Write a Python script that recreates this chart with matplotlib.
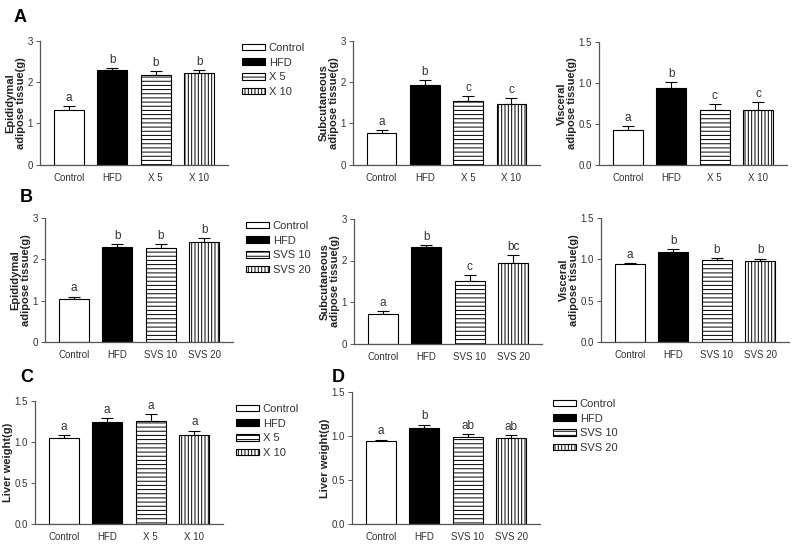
import matplotlib
matplotlib.use("Agg")
import matplotlib.pyplot as plt
import numpy as np

plt.rcParams['font.family'] = ['Liberation Sans', 'DejaVu Sans']
plt.rcParams['hatch.linewidth'] = 0.7

W, H = 804, 547

groups_a = ['Control', 'HFD', 'X 5', 'X 10']
groups_b = ['Control', 'HFD', 'SVS 10', 'SVS 20']

# panel A
epi_a = [1.33, 2.30, 2.18, 2.22]
epi_a_err = [0.08, 0.05, 0.10, 0.08]
epi_a_sig = ['a', 'b', 'b', 'b']
sub_a = [0.76, 1.93, 1.54, 1.46]
sub_a_err = [0.08, 0.12, 0.12, 0.16]
sub_a_sig = ['a', 'b', 'c', 'c']
vis_a = [0.43, 0.94, 0.67, 0.67]
vis_a_err = [0.04, 0.07, 0.07, 0.10]
vis_a_sig = ['a', 'b', 'c', 'c']

# panel B
epi_b = [1.03, 2.30, 2.28, 2.42]
epi_b_err = [0.07, 0.08, 0.10, 0.09]
epi_b_sig = ['a', 'b', 'b', 'b']
sub_b = [0.70, 2.32, 1.50, 1.95]
sub_b_err = [0.08, 0.06, 0.15, 0.18]
sub_b_sig = ['a', 'b', 'c', 'bc']
vis_b = [0.94, 1.09, 0.99, 0.98]
vis_b_err = [0.02, 0.04, 0.03, 0.03]
vis_b_sig = ['a', 'b', 'b', 'b']

# panels C, D (liver)
liver_c = [1.05, 1.25, 1.26, 1.09]
liver_c_err = [0.04, 0.04, 0.08, 0.05]
liver_c_sig = ['a', 'a', 'a', 'a']
liver_d = [0.94, 1.09, 0.99, 0.98]
liver_d_err = [0.02, 0.04, 0.03, 0.03]
liver_d_sig = ['a', 'b', 'ab', 'ab']

fills = ['white', 'black', 'white', 'white']
hatches = [None, None, '----', '|||||']
AXCOL = '#555555'
TXTCOL = '#333333'

fig = plt.figure(figsize=(W / 100, H / 100), dpi=100)


def px_axes(left, right, top, bottom):
    return fig.add_axes([left / W, 1 - bottom / H,
                         (right - left) / W, (bottom - top) / H])


def draw_panel(box, vals, errs, sig, names, ylabel, ymax, yticks, fmt):
    ax = px_axes(*box)
    x = np.arange(len(vals))
    bars = ax.bar(x, vals, 0.68, color=fills, edgecolor='black',
                  linewidth=0.8, zorder=2)
    for b, h in zip(bars, hatches):
        if h:
            b.set_hatch(h)
    ax.errorbar(x, vals, yerr=[np.zeros(len(errs)), errs], fmt='none',
                ecolor='black', elinewidth=0.8, capsize=4.2,
                capthick=0.8, zorder=1)
    for xi, v, e, s in zip(x, vals, errs, sig):
        ax.annotate(s, (xi, v + e), xytext=(0, 1.5),
                    textcoords='offset points', ha='center', va='bottom',
                    fontsize=8.5, color=TXTCOL)
    ax.set_xlim(-0.66, 3.66)
    ax.set_ylim(0, ymax)
    ax.set_yticks(yticks)
    ax.set_yticklabels([fmt % t for t in yticks])
    ax.set_xticks(x)
    ax.set_xticklabels(names)
    ax.tick_params(axis='x', length=0, labelsize=7, colors=TXTCOL, pad=6)
    ax.tick_params(axis='y', length=3, width=0.7, labelsize=7,
                   colors=TXTCOL, color=AXCOL, pad=2)
    for sp in ['top', 'right']:
        ax.spines[sp].set_visible(False)
    for sp in ['left', 'bottom']:
        ax.spines[sp].set_color(AXCOL)
        ax.spines[sp].set_linewidth(0.9)
    ax.set_ylabel(ylabel, fontsize=8, fontweight='bold', color='#222222',
                  linespacing=1.0, labelpad=1.5)
    return ax, bars


def add_legend(bars, names, x, y):
    fig.legend(bars, names, loc='upper left',
               bbox_to_anchor=(x / W, 1 - y / H), frameon=False,
               fontsize=8, handlelength=2.1, handleheight=0.55,
               handletextpad=0.3, labelspacing=0.42, borderaxespad=0,
               borderpad=0, labelcolor=TXTCOL)


ab3 = [0, 1, 2, 3]
half = [0, 0.5, 1.0, 1.5]

ax, bars = draw_panel((40, 228, 41, 164.5), epi_a, epi_a_err, epi_a_sig,
                      groups_a, 'Epididymal\nadipose tissue(g)', 3, ab3, '%d')
add_legend(bars, groups_a, 242, 43)
draw_panel((353, 540, 41, 164.5), sub_a, sub_a_err, sub_a_sig,
           groups_a, 'Subcutaneous\nadipose tissue(g)', 3, ab3, '%d')
draw_panel((599, 787, 42, 165), vis_a, vis_a_err, vis_a_sig,
           groups_a, 'Visceral\nadipose tissue(g)', 1.5, half, '%.1f')

ax, bars = draw_panel((45, 233, 218, 342), epi_b, epi_b_err, epi_b_sig,
                      groups_b, 'Epididymal\nadipose tissue(g)', 3, ab3, '%d')
add_legend(bars, groups_b, 246, 221)
draw_panel((354, 542, 219, 343.5), sub_b, sub_b_err, sub_b_sig,
           groups_b, 'Subcutaneous\nadipose tissue(g)', 3, ab3, '%d')
draw_panel((601, 789, 218, 342), vis_b, vis_b_err, vis_b_sig,
           groups_b, 'Visceral\nadipose tissue(g)', 1.5, half, '%.1f')

ax, bars = draw_panel((35, 223, 401, 524), liver_c, liver_c_err, liver_c_sig,
                      groups_a, 'Liver weight(g)', 1.5, half, '%.1f')
add_legend(bars, groups_a, 236, 404)
ax, bars = draw_panel((352, 540, 392, 524), liver_d, liver_d_err, liver_d_sig,
                      groups_b, 'Liver weight(g)', 1.5, half, '%.1f')
add_legend(bars, groups_b, 553, 399)

for lab, x, y in [('A', 14, 17), ('B', 20, 197), ('C', 20, 378),
                  ('D', 332, 377)]:
    fig.text(x / W, 1 - y / H, lab, fontsize=13, fontweight='bold',
             va='center', ha='left')

fig.savefig('out.png', dpi=100)
